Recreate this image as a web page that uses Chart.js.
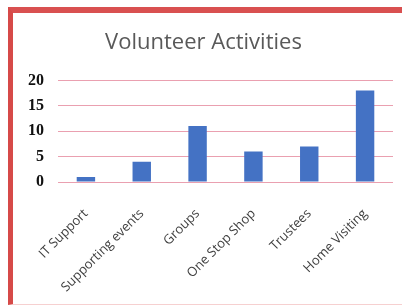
<!DOCTYPE html>
<html>
<head>
<meta charset="utf-8">
<script src="https://cdn.jsdelivr.net/npm/chart.js@4"></script>
<style>
  html, body { margin:0; padding:0; background:#fff; }
  #wrap { position:relative; width:402px; height:306px; overflow:hidden; }
  #frame { position:absolute; left:8px; top:7px; right:-10px; bottom:1px;
           border-left:5px solid #d64a48; border-top:6px solid #d95050;
           border-bottom:1px solid #f6d0d0; }
  canvas { position:absolute; left:0; top:0; }
</style>
</head>
<body>
<div id="wrap">
  <div id="frame"></div>
  <canvas id="c" width="402" height="306"></canvas>
</div>
<script>
const categories = ["IT Support", "Supporting events", "Groups", "One Stop Shop", "Trustees", "Home Visiting"];
const values = [1, 4, 11, 6, 7, 18];
const yTicks = [0, 5, 10, 15, 20];
const titleText = "Volunteer Activities";

new Chart(document.getElementById('c'), {
  type: 'bar',
  data: {
    labels: categories,
    datasets: [{
      data: values,
      backgroundColor: '#4472c4',
      borderWidth: 0,
      categoryPercentage: 1.0,
      barPercentage: 0.33
    }]
  },
  options: {
    responsive: false,
    animation: false,
    layout: { padding: { left: 14, right: 9, top: 20, bottom: 0 } },
    plugins: {
      legend: { display: false },
      tooltip: { enabled: false },
      title: {
        display: true,
        text: titleText,
        color: '#595959',
        font: { family: 'Open Sans', size: 22, weight: 'normal' },
        padding: { top: 10, bottom: 24 }
      }
    },
    scales: {
      x: {
        grid: { display: false },
        border: { display: false },
        afterFit: (axis) => { axis.height = 124; },
        ticks: {
          color: '#404040',
          font: { family: 'Open Sans', size: 13 },
          maxRotation: 45, minRotation: 45,
          padding: 16
        }
      },
      y: {
        min: 0, max: 20,
        afterBuildTicks: (axis) => { axis.ticks = yTicks.map(v => ({ value: v })); },
        grid: { color: '#eaa0b0', lineWidth: 1, drawTicks: false },
        border: { display: false },
        ticks: {
          color: '#111',
          font: { family: 'Liberation Serif', size: 16, weight: 'bold' },
          padding: 14
        }
      }
    }
  }
});
</script>
</body>
</html>
